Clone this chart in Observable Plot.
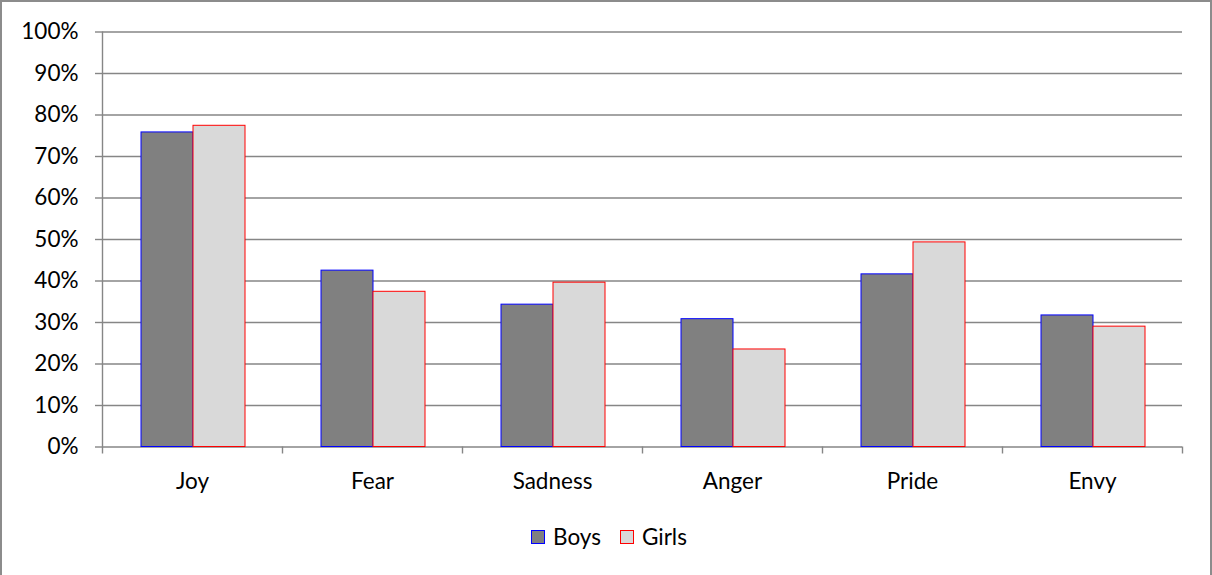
<!DOCTYPE html>
<html>
<head>
<meta charset="utf-8">
<script src="https://cdn.jsdelivr.net/npm/d3@7"></script>
<script src="https://cdn.jsdelivr.net/npm/@observablehq/plot@0.6"></script>
<style>
  html, body { margin: 0; padding: 0; background: #fff; }
  body { width: 1212px; height: 575px; position: relative; overflow: hidden; font-family: Lato, "Open Sans", sans-serif; }
  #chart { position: absolute; left: 0; top: 0; }
  #frame { position: absolute; left: 0; top: 0; width: 1212px; height: 580px; box-sizing: border-box; border: 2px solid #8c8c8c; pointer-events: none; }
  #legend { position: absolute; top: 524px; left: 531px; display: flex; align-items: center; font-size: 22.5px; color: #000; line-height: 26px; }
  .sw { width: 14px; height: 14px; box-sizing: border-box; border: 1.5px solid; margin-right: 8px; }
  .item { display: flex; align-items: center; margin-right: 19px; }
</style>
</head>
<body>
<div id="chart"></div>
<div id="legend"></div>
<div id="frame"></div>
<script>
const categories = ["Joy", "Fear", "Sadness", "Anger", "Pride", "Envy"];
const boys  = [75.8, 42.5, 34.3, 30.8, 41.6, 31.7];
const girls = [77.4, 37.4, 39.6, 23.5, 49.3, 29.0];
const seriesNames = ["Boys", "Girls"];
const yTicks = [0, 10, 20, 30, 40, 50, 60, 70, 80, 90, 100];

const boysData = categories.map((c, i) => ({category: c, value: boys[i]}));
const girlsData = categories.map((c, i) => ({category: c, value: girls[i]}));

const gridColor = "#868686";

const plot = Plot.plot({
  width: 1212,
  height: 500,
  marginLeft: 102,
  marginRight: 30,
  marginTop: 31.5,
  marginBottom: 53.5,
  style: {fontFamily: "Lato, 'Open Sans', sans-serif", fontSize: "22.5px", color: "#000", background: "transparent"},
  x: {domain: categories, padding: 0, label: null},
  y: {domain: [0, 100], label: null},
  marks: [
    Plot.ruleY(yTicks, {stroke: gridColor, strokeWidth: 1.4}),
    Plot.axisY({ticks: yTicks, tickFormat: d => d + "%", tickSize: 7, tickPadding: 17, stroke: gridColor, strokeWidth: 1.4, label: null}),
    Plot.axisX({tickSize: 0, tickPadding: 26, label: null}),
    Plot.ruleX([categories[0]], {x: d => d, dx: -90, y1: 0, y2: 100, insetTop: 7, stroke: gridColor, strokeWidth: 1.4}),
    Plot.ruleX(categories, {x: d => d, dx: 90, y1: 0, y2: 0, insetTop: 7, stroke: gridColor, strokeWidth: 1.4}),
    Plot.barY(boysData, {x: "category", y: "value", fill: "#808080", stroke: "#0000ff", strokeWidth: 1, insetLeft: 39, insetRight: 89}),
    Plot.barY(girlsData, {x: "category", y: "value", fill: "#d9d9d9", stroke: "#ff0000", strokeWidth: 1, insetLeft: 91, insetRight: 37})
  ]
});
document.getElementById("chart").appendChild(plot);

const legendStyles = {Boys: {fill: "#808080", stroke: "#0000ff"}, Girls: {fill: "#d9d9d9", stroke: "#ff0000"}};
const legend = document.getElementById("legend");
seriesNames.forEach(name => {
  const item = document.createElement("div");
  item.className = "item";
  const sw = document.createElement("div");
  sw.className = "sw";
  sw.style.background = legendStyles[name].fill;
  sw.style.borderColor = legendStyles[name].stroke;
  const label = document.createElement("span");
  label.textContent = name;
  item.appendChild(sw);
  item.appendChild(label);
  legend.appendChild(item);
});
</script>
</body>
</html>
